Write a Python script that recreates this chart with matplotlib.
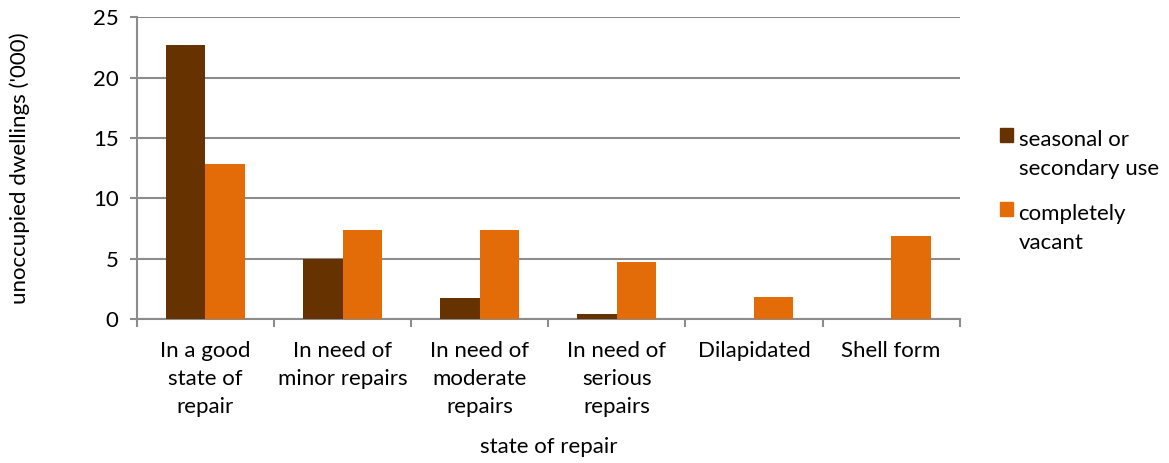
import matplotlib.pyplot as plt
import numpy as np
from matplotlib.patches import Patch, Rectangle
from matplotlib.legend_handler import HandlerPatch

# ── Données ──────────────────────────────────────────────────
categories = ["In a good\nstate of\nrepair", "In need of\nminor repairs",
              "In need of\nmoderate\nrepairs", "In need of\nserious\nrepairs",
              "Dilapidated", "Shell form"]
seasonal = [22.7, 5.0, 1.7, 0.4, 0.0, 0.0]
vacant = [12.8, 7.4, 7.4, 4.7, 1.8, 6.9]
series_names = ["seasonal or\nsecondary use", "completely\nvacant"]
y_ticks = [0, 5, 10, 15, 20, 25]

BROWN = "#663300"
ORANGE = "#E36C09"
GRID = "#8C8C8C"
FS = 16

plt.rcParams['font.family'] = ['Lato', 'DejaVu Sans']

fig = plt.figure(figsize=(11.69, 4.63), dpi=100)
ax = fig.add_axes([0.117, 0.311, 0.704, 0.652])

x = np.arange(len(categories))
w = 0.287
ax.bar(x - w / 2, seasonal, w, color=BROWN, zorder=3)
ax.bar(x + w / 2, vacant, w, color=ORANGE, zorder=3)

ax.set_xlim(-0.5, len(categories) - 0.5)
ax.set_ylim(0, 25)
ax.set_yticks(y_ticks)
ax.yaxis.grid(True, color=GRID, linewidth=1.5, zorder=0)

# ticks mineurs aux limites de catégorie
ax.set_xticks(x)
ax.set_xticklabels(categories, fontsize=FS, linespacing=1.5, va='top')
ax.tick_params(axis='x', which='major', length=0, pad=16)
ax.set_xticks(np.arange(-0.5, len(categories)), minor=True)
ax.tick_params(axis='x', which='minor', length=6, width=1.5, color=GRID)
ax.tick_params(axis='y', length=5, width=1.5, color=GRID, labelsize=FS, pad=8)

for s in ['top', 'right']:
    ax.spines[s].set_visible(False)
for s in ['left', 'bottom']:
    ax.spines[s].set_color(GRID)
    ax.spines[s].set_linewidth(1.5)

ax.set_xlabel("state of repair", fontsize=FS)
ax.xaxis.set_label_coords(0.5, -0.39)
ax.set_ylabel("unoccupied dwellings ('000)", fontsize=FS)
ax.yaxis.set_label_coords(-0.130, 0.5)


# carré de légende aligné sur la première ligne du libellé
def top_square(legend, orig_handle, xdescent, ydescent, width, height, fontsize):
    side = 0.6 * fontsize
    return Rectangle((-xdescent, -ydescent + 0.91 * fontsize), side, side)


handles = [Patch(color=BROWN), Patch(color=ORANGE)]
leg = fig.legend(handles, series_names, loc='upper left', bbox_to_anchor=(0.838, 0.763),
                 frameon=False, fontsize=FS, handlelength=0.6, handleheight=0.6,
                 handletextpad=0.25, labelspacing=1.1,
                 handler_map={Patch: HandlerPatch(patch_func=top_square)})
for t in leg.get_texts():
    t.set_linespacing(1.6)

fig.savefig("out.png", dpi=100)
